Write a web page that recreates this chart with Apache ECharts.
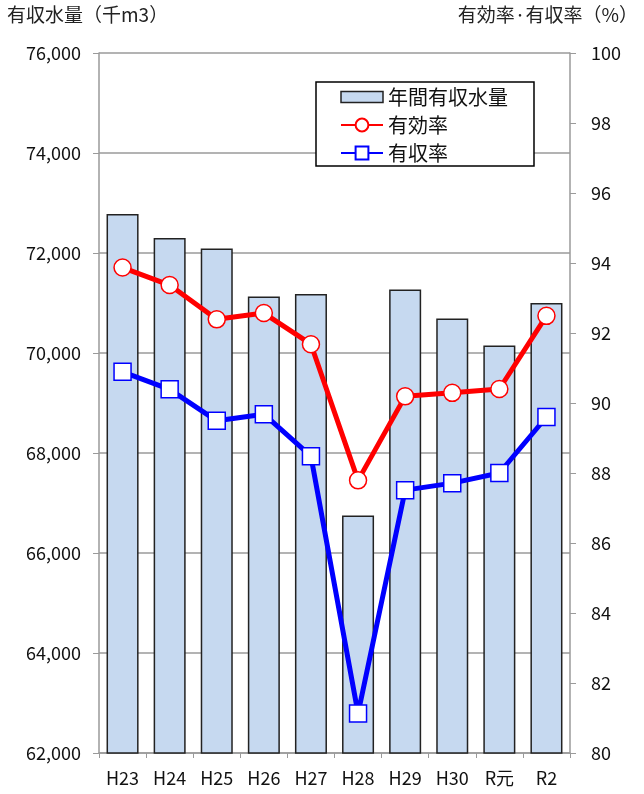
<!DOCTYPE html>
<html>
<head>
<meta charset="utf-8">
<script src="https://cdn.jsdelivr.net/npm/echarts@6/dist/echarts.min.js"></script>
<style>
  html, body { margin: 0; padding: 0; background: #fff; }
  #chart { width: 644px; height: 794px; }
</style>
</head>
<body>
<div id="chart"></div>
<script>
  // 年度
  const years = ['H23', 'H24', 'H25', 'H26', 'H27', 'H28', 'H29', 'H30', 'R元', 'R2'];
  // 年間有収水量 (千m3)
  const volume = [72780, 72300, 72090, 71130, 71180, 66750, 71270, 70690, 70150, 71000];
  // 有効率 (%)
  const effectiveRate = [93.87, 93.37, 92.39, 92.57, 91.68, 87.79, 90.19, 90.29, 90.40, 92.49];
  // 有収率 (%)
  const revenueRate = [90.89, 90.39, 89.49, 89.68, 88.48, 81.13, 87.51, 87.71, 88.00, 89.60];

  const font = 'Noto Sans CJK JP';
  const axisGray = '#9a9a9a';

  const myChart = echarts.init(document.getElementById('chart'));
  myChart.setOption({
    animation: false,
    textStyle: { fontFamily: font },
    grid: { left: 99, right: 74, top: 53, bottom: 41 },
    graphic: [
      { type: 'text', left: 7, top: 5, style: { text: '有収水量（千m3）', font: '19px "Noto Sans CJK JP"', fill: '#222' } },
      { type: 'text', right: 6, top: 5, style: { text: '有効率·有収率（%）', font: '19px "Noto Sans CJK JP"', fill: '#222' } }
    ],
    legend: {
      orient: 'vertical',
      left: 316,
      top: 82,
      padding: [5, 26, 3, 24],
      itemGap: 8,
      itemWidth: 42,
      itemHeight: 16,
      borderColor: '#000',
      borderWidth: 1.5,
      backgroundColor: '#fff',
      textStyle: { fontSize: 20, color: '#111', fontFamily: font },
      data: [
        {
          name: '年間有収水量',
          // 凡例の棒アイコンは少し低め
          icon: 'path://M0,0 M0,2.5 L42,2.5 L42,13.5 L0,13.5 Z M42,16',
          itemStyle: { color: '#c6d9f0', borderColor: '#222', borderWidth: 1.5 }
        },
        { name: '有効率' },
        { name: '有収率' }
      ]
    },
    xAxis: {
      type: 'category',
      data: years,
      axisLine: { lineStyle: { color: axisGray, width: 1.5 } },
      axisTick: { show: true, length: 5, lineStyle: { color: axisGray } },
      axisLabel: { color: '#111', fontSize: 18, margin: 16, fontFamily: font }
    },
    yAxis: [
      {
        type: 'value',
        min: 62000,
        max: 76000,
        interval: 2000,
        axisLine: { show: true, lineStyle: { color: axisGray, width: 1.5 } },
        axisTick: { show: true, length: 6, lineStyle: { color: axisGray } },
        splitLine: { lineStyle: { color: axisGray, width: 1.5 } },
        axisLabel: {
          color: '#111',
          fontSize: 18,
          margin: 18,
          fontFamily: font,
          formatter: (v) => v.toLocaleString('en-US')
        }
      },
      {
        type: 'value',
        min: 80,
        max: 100,
        interval: 2,
        axisLine: { show: true, lineStyle: { color: axisGray, width: 1.5 } },
        axisTick: { show: true, length: 6, lineStyle: { color: axisGray } },
        splitLine: { show: false },
        axisLabel: { color: '#111', fontSize: 18, margin: 21, fontFamily: font }
      }
    ],
    series: [
      {
        name: '年間有収水量',
        type: 'bar',
        yAxisIndex: 0,
        barCategoryGap: '32%',
        data: volume,
        itemStyle: { color: '#c6d9f0', borderColor: '#222', borderWidth: 1.5 }
      },
      {
        name: '有効率',
        type: 'line',
        yAxisIndex: 1,
        data: effectiveRate,
        symbol: 'circle',
        symbolSize: 17,
        lineStyle: { color: '#ff0000', width: 5 },
        itemStyle: { color: '#fff', borderColor: '#ff0000', borderWidth: 1.5 },
        z: 3
      },
      {
        name: '有収率',
        type: 'line',
        yAxisIndex: 1,
        data: revenueRate,
        symbol: 'rect',
        symbolSize: 17,
        lineStyle: { color: '#0000ff', width: 5 },
        itemStyle: { color: '#fff', borderColor: '#0000ff', borderWidth: 1.5 },
        z: 4
      }
    ]
  });
</script>
</body>
</html>
